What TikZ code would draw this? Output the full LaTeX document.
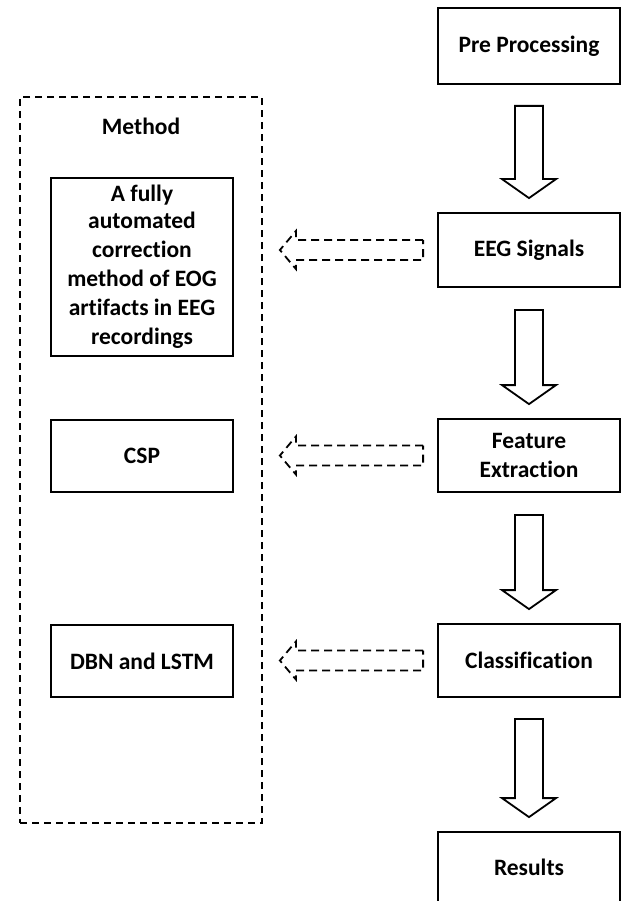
\documentclass[tikz,border=0pt]{standalone}
\usepackage{fontspec}
\setmainfont{Carlito}[Ligatures=NoCommon]
\usetikzlibrary{calc}

% solid block arrow pointing down: #1 top centre of shaft, #2 tip
\newcommand\blockdown[2]{%
  \draw[blockline] ($(#1)+(-14,0)$) -- ($(#2)+(-14,-19)$) -- ($(#2)+(-27,-19)$)
    -- (#2) -- ($(#2)+(27,-19)$) -- ($(#2)+(14,-19)$) -- ($(#1)+(14,0)$) -- cycle;}
% dashed block arrow pointing left: #1 right end centre, #2 tip
\newcommand\blockleft[2]{%
  \draw[dashline] ($(#1)+(0,-10)$) -- ($(#2)+(16,-10)$) -- ($(#2)+(16,-19)$)
    -- (#2) -- ($(#2)+(16,19)$) -- ($(#2)+(16,10)$) -- ($(#1)+(0,10)$) -- cycle;}

\tikzset{
  box/.style={draw, line width=1.8pt, minimum width=182pt, align=center,
    font=\fontsize{23.5}{29}\selectfont\bfseries, inner sep=2pt},
  blockline/.style={line width=1.8pt, line join=miter},
  dashline/.style={line width=1.8pt, dash pattern=on 8pt off 5pt},
  container/.style={draw, line width=1.8pt, dash pattern=on 7pt off 5pt,
    minimum width=242pt, minimum height=726pt},
  lbl/.style={font=\fontsize{23.5}{29}\selectfont\bfseries}
}

\begin{document}
\begin{tikzpicture}[x=1pt, y=-1pt]
\useasboundingbox (0,0) rectangle (622,901);

% processing pipeline
\node[box, minimum height=76pt] (pre) at (529,46) {Pre Processing};
\node[box, minimum height=74pt] (eeg) at (529,250) {EEG Signals};
\node[box, minimum height=73pt] (fe) at (529,455.5) {Feature\\Extraction};
\node[box, minimum height=73pt] (cls) at (529,660.5) {Classification};
\node[box, minimum height=70pt] (res) at (529,867) {Results};

% method column
\node[container] (method) at (141,460) {};
\node[lbl] (mlbl) at (141,126) {Method};
\node[box, minimum height=178pt] (eog) at (142,267)
  {\raisebox{-2pt}{A fully}\\automated\\correction\\method of EOG\\artifacts in EEG\\recordings};
\node[box, minimum height=72pt] (csp) at (142,456) {CSP};
\node[box, minimum height=72pt] (dbn) at (142,661) {DBN and LSTM};

% downward flow
\blockdown{$(pre.south)+(0,21)$}{$(eeg.north)+(0,-14)$}
\blockdown{$(eeg.south)+(0,22)$}{$(fe.north)+(0,-14)$}
\blockdown{$(fe.south)+(0,22)$}{$(cls.north)+(0,-14)$}
\blockdown{$(cls.south)+(0,21)$}{$(res.north)+(0,-14)$}

% links to the methods
\blockleft{$(eeg.west)+(-14,0)$}{$(eeg.west -| eog.east)+(46,0)$}
\blockleft{$(fe.west)+(-14,0)$}{$(fe.west -| csp.east)+(46,0)$}
\blockleft{$(cls.west)+(-14,0)$}{$(cls.west -| dbn.east)+(46,0)$}
\end{tikzpicture}
\end{document}
